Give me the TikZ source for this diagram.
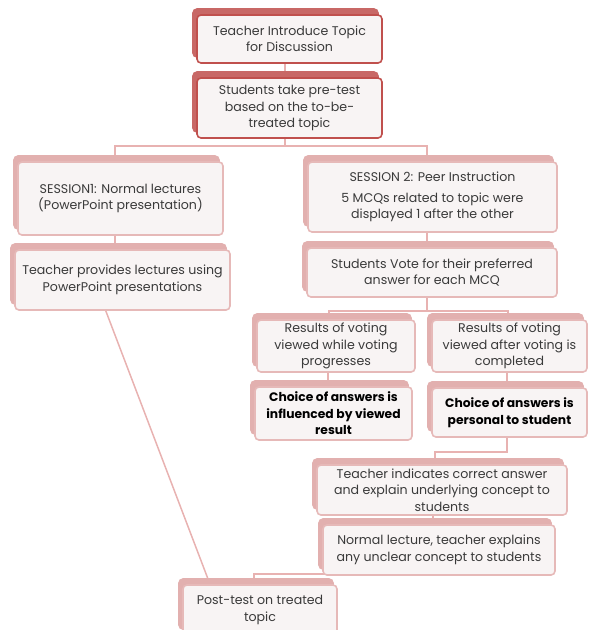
\documentclass[tikz,border=0pt]{standalone}
\usepackage{fontspec}
\setmainfont{Poppins}
\usetikzlibrary{shadows,calc,backgrounds}
\definecolor{dkb}{HTML}{C0504D}
\definecolor{dks}{HTML}{C86866}
\definecolor{lb}{HTML}{E6B9B8}
\definecolor{ls}{HTML}{E2B0AF}
\definecolor{frontc}{HTML}{F8F4F4}
\definecolor{txtc}{HTML}{3A3A3A}
\definecolor{connc}{HTML}{E8B2B1}
\tikzset{
  box/.style={rounded corners=4pt, fill=frontc, text=txtc, align=center, inner sep=1pt,
    font=\fontsize{12.6}{16.5}\selectfont, line width=1.6pt},
  topbox/.style={box, draw=dkb, copy shadow={fill=dks, draw=dks, shadow xshift=-4pt, shadow yshift=6pt}},
  lbox/.style={box, draw=lb, copy shadow={fill=ls, draw=ls, shadow xshift=-4pt, shadow yshift=6pt}},
  boldbox/.style={lbox, text=black, font=\fontsize{12.3}{16.5}\selectfont\bfseries},
  conn/.style={draw=connc, line width=1.5pt}
}
\begin{document}
\begin{tikzpicture}[x=1pt,y=-1pt]
\useasboundingbox (0,0) rectangle (595,630);
\node[topbox, minimum width=185, minimum height=48] (b1) at (289.5,39) {Teacher Introduce Topic\\for Discussion};
\node[topbox, minimum width=185, minimum height=60] (b2) at (289.5,108) {Students take pre-test\\based on the to-be-\\treated topic};
\node[lbox, minimum width=205, minimum height=73] (s1) at (120.5,198.5) {SESSION1: Normal lectures\\(PowerPoint presentation)};
\node[lbox, minimum width=215, minimum height=60] (tp) at (122.5,280) {Teacher provides lectures using\\PowerPoint presentations};
\node[lbox, minimum width=249, minimum height=70] (s2) at (432.5,197) {SESSION 2: Peer Instruction\\[4pt]5 MCQs related to topic were\\displayed 1 after the other};
\node[lbox, minimum width=250, minimum height=49] (vote) at (432,272.5) {Students Vote for their preferred\\answer for each MCQ};
\node[lbox, minimum width=158, minimum height=52] (rl) at (336,346) {Results of voting\\viewed while voting\\progresses};
\node[lbox, minimum width=155, minimum height=52] (rr) at (509.5,346) {Results of voting\\viewed after voting is\\completed};
\node[boldbox, minimum width=157, minimum height=53] (cl) at (333.5,413.5) {Choice of answers is\\influenced by viewed\\result};
\node[boldbox, minimum width=155, minimum height=49] (cr) at (509.5,412.5) {Choice of answers is\\personal to student};
\node[lbox, minimum width=250, minimum height=50] (ti) at (442,490) {Teacher indicates correct answer\\and explain underlying concept to\\students};
\node[lbox, minimum width=232, minimum height=50] (nl) at (439,550) {Normal lecture, teacher explains\\any unclear concept to students};
\node[lbox, minimum width=154, minimum height=50] (post) at (260,610) {Post-test on treated\\topic};
\begin{scope}[on background layer]
\draw[conn] ($(b1.south)+(-4.5,0)$) -- ($(b2.north)+(-4.5,0)$);
\draw[conn] ($(b2.south)+(-4.5,0)$) -- ++(0,7) -| ($(s1.north)+(-5.5,0)$);
\draw[conn] ($(b2.south)+(-4.5,0)$) -- ++(0,7) -| ($(s2.north)+(-5.5,0)$);
\draw[conn] ($(s1.south)+(-5.5,0)$) -- ($(tp.north)+(-7.5,0)$);
\draw[conn] ($(s2.south)+(-5.5,0)$) -- ($(vote.north)+(-5,0)$);
\draw[conn] ($(vote.south)+(-5,0)$) -- ++(0,13) -| ($(rl.north)+(-7,0)$);
\draw[conn] ($(vote.south)+(-5,0)$) -- ++(0,13) -| ($(rr.north)+(-1.5,0)$);
\draw[conn] ($(rl.south)+(-8,0)$) -- ($(cl.north)+(-5.5,0)$);
\draw[conn] ($(rr.south)+(-2.5,0)$) -- ($(cr.north)+(-2.5,0)$);
\draw[conn] ($(cr.south)+(-2.5,0)$) -- ++(0,14) -| ($(ti.north)+(-7,0)$);
\draw[conn] ($(ti.south)+(-9,0)$) -- ($(nl.north)+(-6,0)$);
\draw[conn] ($(nl.south)+(0,-2)$) -| ($(post.north)+(-6,0)$);
\draw[conn] ($(tp.south)+(-17.5,-2)$) -- ($(post.north)+(-50,0)$);
\end{scope}
\end{tikzpicture}
\end{document}
